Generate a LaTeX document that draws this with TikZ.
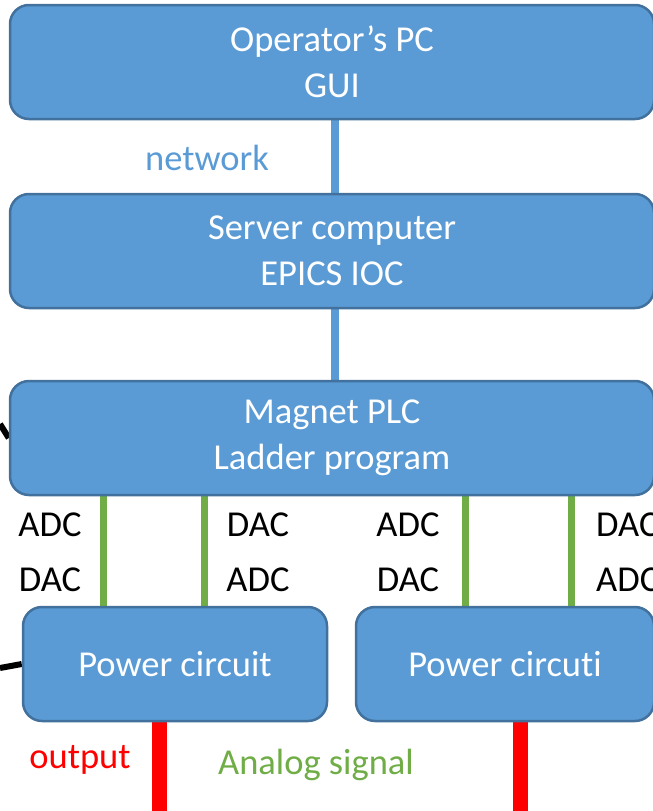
\documentclass[tikz,border=0pt]{standalone}
\usepackage{fontspec}
\setmainfont{Carlito}[RawFeature={-liga;-clig;-dlig}]
\usetikzlibrary{backgrounds}
\definecolor{boxfill}{HTML}{5B9BD5}
\definecolor{boxline}{HTML}{41719C}
\definecolor{siggreen}{HTML}{70AD47}
\definecolor{outred}{HTML}{FF0000}
\tikzset{
  block/.style={draw=boxline, line width=2.5pt, fill=boxfill, rounded corners=19pt,
    text=white, align=center, inner sep=0pt,
    font=\fontsize{36.5}{46}\selectfont},
  label36/.style={inner sep=0pt, font=\fontsize{36.5}{46}\selectfont},
  netlink/.style={draw=boxfill, line width=8pt},
  siglink/.style={draw=siggreen, line width=7pt},
  outlink/.style={draw=outred, line width=15pt},
  extlink/.style={draw=black, line width=6pt},
}
\begin{document}
\begin{tikzpicture}[x=1pt, y=-1pt]
\useasboundingbox (0,0) rectangle (653,811);

% main blocks
\node[block, minimum width=644pt, minimum height=114pt] (pc) at (332,62) {Operator’s PC\\GUI};
\node[block, minimum width=644pt, minimum height=114pt] (ioc) at (332,251) {Server computer\\EPICS IOC};
\node[block, minimum width=644pt, minimum height=114pt] (plc) at (332,438) {Magnet PLC\\Ladder program};
\node[block, minimum width=304pt, minimum height=114pt] (pw1) at (175,664) {Power circuit};
\node[block, minimum width=298pt, minimum height=114pt] (pw2) at (505,664) {Power circu{}ti};

% x positions of the vertical links
\coordinate (xnet) at (335,0);
\coordinate (xg1) at (103.5,0);
\coordinate (xg2) at (204,0);
\coordinate (xg3) at (465,0);
\coordinate (xg4) at (571.5,0);
\coordinate (xr1) at (159.5,0);
\coordinate (xr2) at (520.5,0);
\coordinate (floor) at (0,811);
\coordinate (ext1) at (0,424);
\coordinate (ext2) at (0,668);

\begin{scope}[on background layer]
  \draw[netlink] (xnet |- pc.south) -- (xnet |- ioc.north);
  \draw[netlink] (xnet |- ioc.south) -- (xnet |- plc.north);
  \draw[siglink] (xg1 |- plc.south) -- (xg1 |- pw1.north);
  \draw[siglink] (xg2 |- plc.south) -- (xg2 |- pw1.north);
  \draw[siglink] (xg3 |- plc.south) -- (xg3 |- pw2.north);
  \draw[siglink] (xg4 |- plc.south) -- (xg4 |- pw2.north);
  \draw[outlink] (xr1 |- pw1.south) -- (xr1 |- floor);
  \draw[outlink] (xr2 |- pw2.south) -- (xr2 |- floor);
  \draw[extlink] (ext1) -- (plc.west);
  \draw[extlink] (ext2) -- (pw1.west);
\end{scope}

% labels
\node[label36, text=boxfill] (lnet) at (207,158) {network};
\node[label36] (a1) at (50,525) {ADC};
\node[label36] (d1) at (50,580) {DAC};
\node[label36] (d2) at (258,525) {DAC};
\node[label36] (a2) at (258,580) {ADC};
\node[label36] (a3) at (408,525) {ADC};
\node[label36] (d3) at (408,580) {DAC};
\node[label36, anchor=west] (d4) at (596,525) {DAC};
\node[label36, anchor=west] (a4) at (596,580) {ADC};
\node[label36, text=outred] (lout) at (80,760) {output};
\node[label36, text=siggreen] (lsig) at (316,765) {Analog signal};
\end{tikzpicture}
\end{document}
